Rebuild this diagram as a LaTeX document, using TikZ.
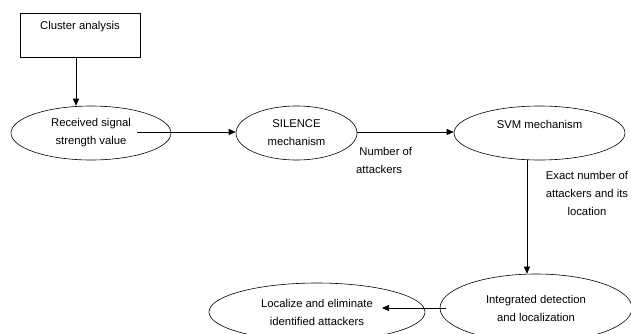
\documentclass[tikz,border=0pt]{standalone}
\usepackage{fontspec}
\setmainfont{Liberation Sans}
\usetikzlibrary{shapes.geometric,arrows.meta}
\begin{document}
\begin{tikzpicture}[x=1pt,y=-1pt,
  every node/.style={font=\fontsize{11.3}{18}\selectfont,align=center},
  oval/.style={draw,ellipse,inner sep=0pt,line width=0.6pt},
  lbl/.style={inner sep=0pt},
  conn/.style={draw,line width=0.6pt,-{Triangle[length=7pt,width=6pt]}}]
\useasboundingbox (0,0) rectangle (631,333);
\node[draw,line width=0.6pt,minimum width=120pt,minimum height=44pt,inner sep=0pt] (ca) at (80,35) {};
\node[lbl] (cat) at (80,27) {Cluster analysis};
\node[oval,minimum width=160pt,minimum height=54pt] (e1) at (91,133) {Received signal\\strength value};
\node[oval,minimum width=121pt,minimum height=54pt] (e2) at (296.5,133) {SILENCE\\mechanism};
\node[oval,minimum width=171pt,minimum height=54pt] (e3) at (539.5,133) {SVM mechanism\\\phantom{x}};
\node[oval,minimum width=192pt,minimum height=68pt] (e4) at (536,308) {Integrated detection\\and localization};
\node[oval,minimum width=216pt,minimum height=58pt] (e5) at (317,312) {Localize and eliminate\\identified attackers};
\node[lbl,align=left,anchor=west] (n1) at (356,160) {\ Number of\\attackers};
\node[lbl] (n2) at (587,193) {Exact number of\\attackers and its\\location};
\coordinate (s1) at (137,132);
\coordinate (s2) at (357,132);
\coordinate (t4) at (382,308);
\coordinate (s4) at (446,308);
\draw[conn] (ca.south -| 76,0) -- (e1.north -| 76,0);
\draw[conn] (s1) -- (e2.west |- s1);
\draw[conn] (s2) -- (e3.west |- s2);
\draw[conn] (e3.south -| 527,0) -- (e4.north -| 527,0);
\draw[conn] (s4) -- (t4);
\end{tikzpicture}
\end{document}
